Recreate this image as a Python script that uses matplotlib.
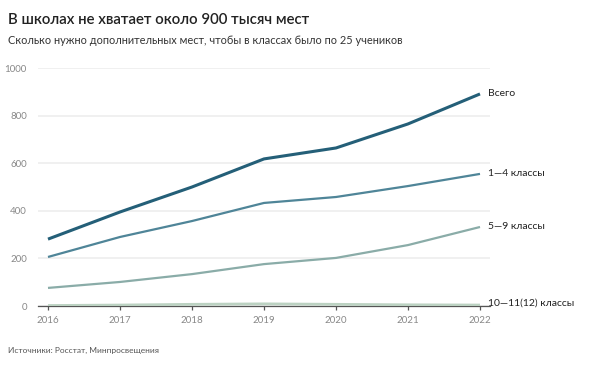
import matplotlib.pyplot as plt
import numpy as np

plt.rcParams['font.family'] = ['Lato', 'DejaVu Sans']

years = [2016, 2017, 2018, 2019, 2020, 2021, 2022]
total = [281, 395, 500, 618, 664, 765, 891]
gr1_4 = [206, 290, 357, 433, 458, 504, 555]
gr5_9 = [76, 101, 134, 176, 202, 256, 332]
gr10_11 = [2, 4, 7, 9, 7, 5, 4]

series = [
    (total, 'Всего', '#245f78', 2.2),
    (gr1_4, '1—4 классы', '#4f8598', 1.6),
    (gr5_9, '5—9 классы', '#8aaca8', 1.6),
    (gr10_11, '10—11(12) классы', '#bcd2c2', 2.0),
]

fig = plt.figure(figsize=(5.98, 3.66), dpi=100)
ax = fig.add_axes([38/598, 60/366, 452/598, 238/366])

for vals, name, col, lw in series:
    ax.plot(years, vals, color=col, lw=lw, solid_capstyle='butt', zorder=3)

# подписи справа
lx = 2022 + 8/72
ax.text(lx, total[-1], 'Всего', fontsize=7.5, color='#222222', va='center', ha='left')
ax.text(lx, gr1_4[-1], '1—4 классы', fontsize=7.5, color='#222222', va='center', ha='left')
ax.text(lx, gr5_9[-1], '5—9 классы', fontsize=7.5, color='#222222', va='center', ha='left')
ax.text(lx, 12, '10—11(12) классы', fontsize=7.5, color='#222222', va='center', ha='left',
        clip_on=False)

ax.set_xlim(2016 - 10/72, 2022 + 10/72)
ax.set_ylim(0, 1000)
ax.set_yticks([0, 200, 400, 600, 800, 1000])
ax.set_xticks(years)
ax.grid(axis='y', color='#eeeeee', lw=1.2)
ax.set_axisbelow(True)
for s in ['top', 'right', 'left']:
    ax.spines[s].set_visible(False)
ax.spines['bottom'].set_color('#555555')
ax.spines['bottom'].set_linewidth(0.9)
ax.tick_params(axis='y', length=0, labelsize=7, labelcolor='#888888', pad=8)
ax.tick_params(axis='x', length=3, width=0.9, color='#555555', labelsize=7,
               labelcolor='#888888', pad=4)

fig.text(8/598, 1 - 20/366, 'В школах не хватает около 900 тысяч мест', fontsize=10.8,
         fontweight='semibold', color='#222222', va='center')
fig.text(8/598, 1 - 40/366, 'Сколько нужно дополнительных мест, чтобы в классах было по 25 учеников',
         fontsize=7.9, color='#333333', va='center')
fig.text(8/598, 1 - 350/366, 'Источники: Росстат, Минпросвещения', fontsize=6,
         color='#555555', va='center')

fig.savefig('out.png', dpi=100, facecolor='white')
